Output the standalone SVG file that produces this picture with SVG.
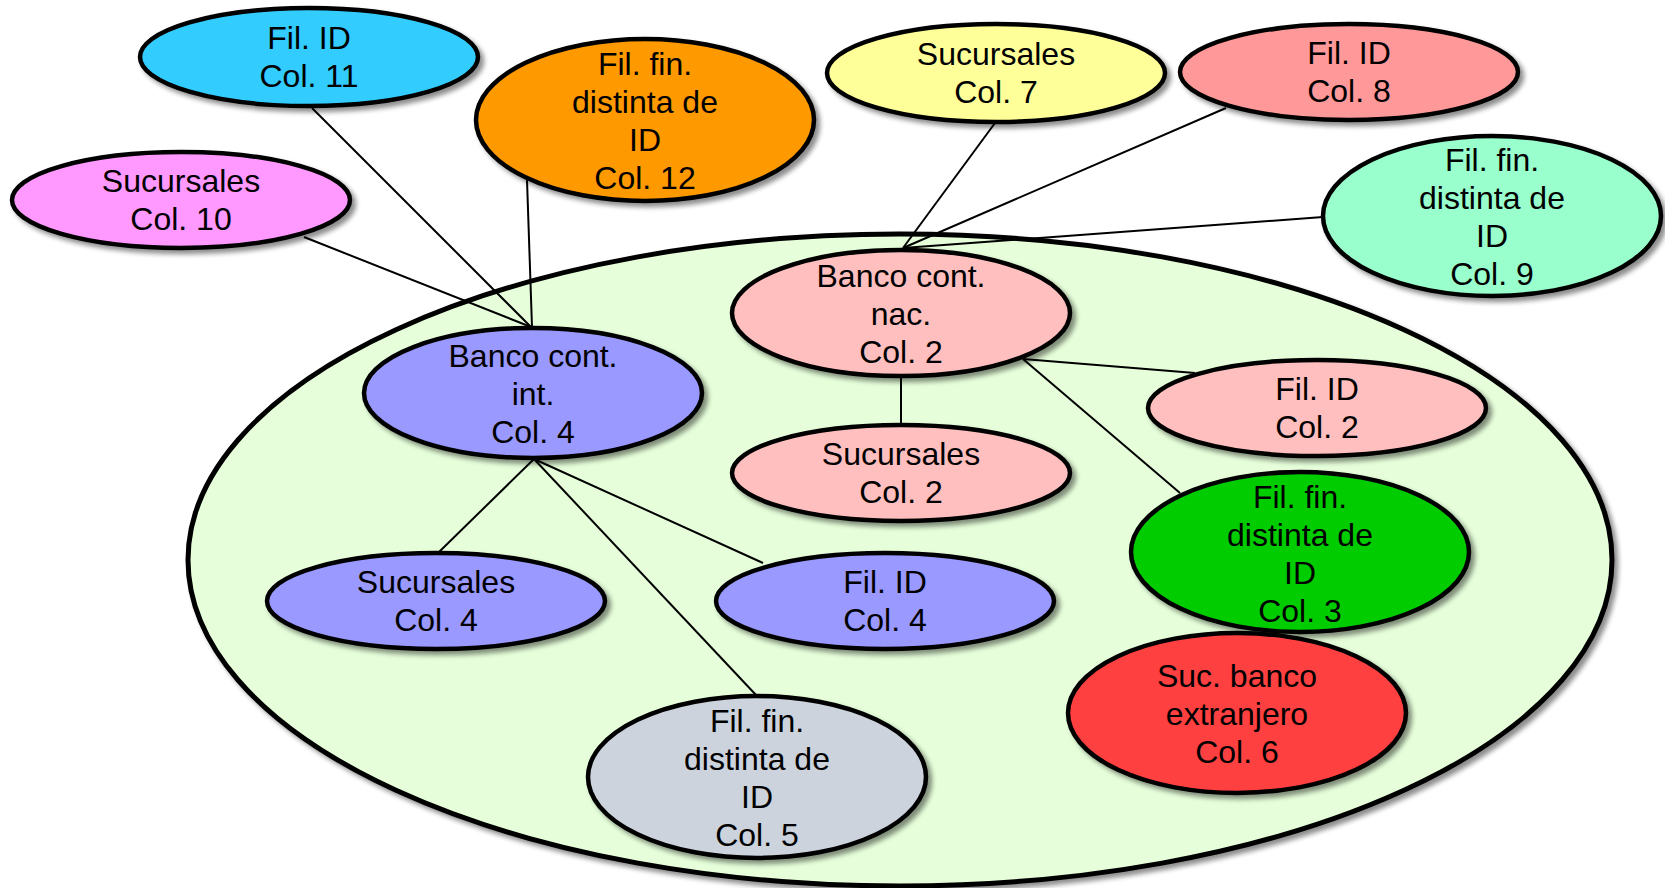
<svg xmlns="http://www.w3.org/2000/svg" width="1665" height="888" viewBox="0 0 1665 888">
<style>
.n{stroke:#000;stroke-width:4.5;filter:url(#sh)}
.t{font-family:"Liberation Sans",Arial,sans-serif;font-size:32px;fill:#000;text-anchor:middle}
.c line{stroke:#000;stroke-width:2}
</style>
<defs>
<filter id="sh" x="-10%" y="-10%" width="125%" height="130%">
<feGaussianBlur in="SourceAlpha" stdDeviation="2.5"/>
<feOffset dx="4" dy="4" result="o"/>
<feComponentTransfer><feFuncA type="linear" slope="0.45"/></feComponentTransfer>
<feMerge><feMergeNode/><feMergeNode in="SourceGraphic"/></feMerge>
</filter>
</defs>
<rect width="1665" height="888" fill="#fff"/>
<g id="group-area">
<ellipse cx="900" cy="560" rx="712" ry="326" fill="#E6FFDA" stroke="#000" stroke-width="5" filter="url(#sh)"/>
</g>
<g id="connectors" class="c">
<line x1="312" y1="108" x2="531" y2="327"/>
<line x1="527" y1="180" x2="532" y2="327"/>
<line x1="304" y1="237" x2="531" y2="327"/>
<line x1="995" y1="123" x2="903" y2="248"/>
<line x1="1226" y1="108" x2="903" y2="248"/>
<line x1="1323" y1="217" x2="903" y2="248"/>
<line x1="901" y1="377" x2="901" y2="425"/>
<line x1="1023" y1="359" x2="1195" y2="373"/>
<line x1="1023" y1="359" x2="1180" y2="493"/>
<line x1="534" y1="459" x2="439" y2="552"/>
<line x1="534" y1="459" x2="763" y2="563"/>
<line x1="534" y1="459" x2="756" y2="695"/>
</g>
<g id="n-col11">
<ellipse class="n" cx="309" cy="57" rx="169" ry="49" fill="#33CCFF"/>
<text class="t" x="309" y="49">Fil. ID</text>
<text class="t" x="309" y="87">Col. 11</text>
</g>
<g id="n-col12">
<ellipse class="n" cx="645" cy="120" rx="169" ry="81" fill="#FF9900"/>
<text class="t" x="645" y="75">Fil. fin.</text>
<text class="t" x="645" y="113">distinta de</text>
<text class="t" x="645" y="151">ID</text>
<text class="t" x="645" y="189">Col. 12</text>
</g>
<g id="n-col7">
<ellipse class="n" cx="996" cy="73" rx="169" ry="49" fill="#FFFF99"/>
<text class="t" x="996" y="65">Sucursales</text>
<text class="t" x="996" y="103">Col. 7</text>
</g>
<g id="n-col8">
<ellipse class="n" cx="1349" cy="72" rx="169" ry="48" fill="#FF9999"/>
<text class="t" x="1349" y="64">Fil. ID</text>
<text class="t" x="1349" y="102">Col. 8</text>
</g>
<g id="n-col10">
<ellipse class="n" cx="181" cy="200" rx="169" ry="48" fill="#FF99FF"/>
<text class="t" x="181" y="192">Sucursales</text>
<text class="t" x="181" y="230">Col. 10</text>
</g>
<g id="n-col9">
<ellipse class="n" cx="1492" cy="216" rx="169" ry="80" fill="#99FFCC"/>
<text class="t" x="1492" y="171">Fil. fin.</text>
<text class="t" x="1492" y="209">distinta de</text>
<text class="t" x="1492" y="247">ID</text>
<text class="t" x="1492" y="285">Col. 9</text>
</g>
<g id="n-banco-nac">
<ellipse class="n" cx="901" cy="313" rx="169" ry="63" fill="#FFBFBF"/>
<text class="t" x="901" y="287">Banco cont.</text>
<text class="t" x="901" y="325">nac.</text>
<text class="t" x="901" y="363">Col. 2</text>
</g>
<g id="n-banco-int">
<ellipse class="n" cx="533" cy="393" rx="169" ry="65" fill="#9999FF"/>
<text class="t" x="533" y="367">Banco cont.</text>
<text class="t" x="533" y="405">int.</text>
<text class="t" x="533" y="443">Col. 4</text>
</g>
<g id="n-filid-col2">
<ellipse class="n" cx="1317" cy="408" rx="169" ry="48" fill="#FFBFBF"/>
<text class="t" x="1317" y="400">Fil. ID</text>
<text class="t" x="1317" y="438">Col. 2</text>
</g>
<g id="n-suc-col2">
<ellipse class="n" cx="901" cy="473" rx="169" ry="48" fill="#FFBFBF"/>
<text class="t" x="901" y="465">Sucursales</text>
<text class="t" x="901" y="503">Col. 2</text>
</g>
<g id="n-col3">
<ellipse class="n" cx="1300" cy="552" rx="169" ry="80" fill="#00CC00"/>
<text class="t" x="1300" y="508">Fil. fin.</text>
<text class="t" x="1300" y="546">distinta de</text>
<text class="t" x="1300" y="584">ID</text>
<text class="t" x="1300" y="622">Col. 3</text>
</g>
<g id="n-suc-col4">
<ellipse class="n" cx="436" cy="601" rx="169" ry="48" fill="#9999FF"/>
<text class="t" x="436" y="593">Sucursales</text>
<text class="t" x="436" y="631">Col. 4</text>
</g>
<g id="n-filid-col4">
<ellipse class="n" cx="885" cy="601" rx="169" ry="48" fill="#9999FF"/>
<text class="t" x="885" y="593">Fil. ID</text>
<text class="t" x="885" y="631">Col. 4</text>
</g>
<g id="n-col6">
<ellipse class="n" cx="1237" cy="713" rx="169" ry="80" fill="#FF3F3F"/>
<text class="t" x="1237" y="687">Suc. banco</text>
<text class="t" x="1237" y="725">extranjero</text>
<text class="t" x="1237" y="763">Col. 6</text>
</g>
<g id="n-col5">
<ellipse class="n" cx="757" cy="777" rx="169" ry="81" fill="#CCD3DD"/>
<text class="t" x="757" y="732">Fil. fin.</text>
<text class="t" x="757" y="770">distinta de</text>
<text class="t" x="757" y="808">ID</text>
<text class="t" x="757" y="846">Col. 5</text>
</g>
</svg>
